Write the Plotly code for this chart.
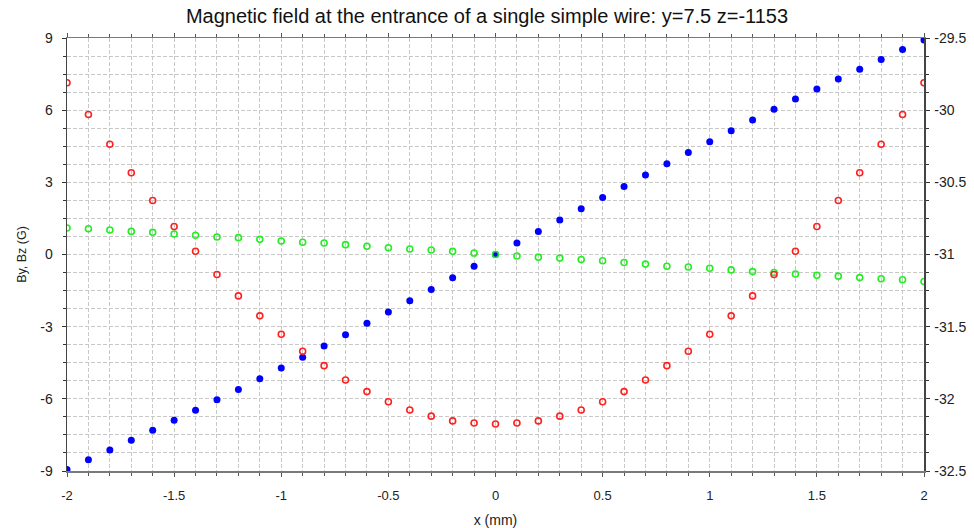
import plotly.graph_objects as go

x_vals = [-2.0, -1.9, -1.8, -1.7, -1.6, -1.5, -1.4, -1.3, -1.2, -1.1, -1.0,
          -0.9, -0.8, -0.7, -0.6, -0.5, -0.4, -0.3, -0.2, -0.1, 0.0,
          0.1, 0.2, 0.3, 0.4, 0.5, 0.6, 0.7, 0.8, 0.9, 1.0,
          1.1, 1.2, 1.3, 1.4, 1.5, 1.6, 1.7, 1.8, 1.9, 2.0]

by_vals = [-8.94, -8.53, -8.13, -7.72, -7.31, -6.89, -6.47, -6.04, -5.61, -5.17, -4.72,
           -4.27, -3.80, -3.34, -2.86, -2.39, -1.92, -1.45, -0.97, -0.49, 0.0,
           0.48, 0.96, 1.43, 1.90, 2.37, 2.83, 3.31, 3.77, 4.24, 4.69,
           5.14, 5.59, 6.04, 6.46, 6.88, 7.30, 7.70, 8.11, 8.52, 8.92]

bz_vals = [-29.81, -30.03, -30.236, -30.434, -30.626, -30.806, -30.977, -31.139, -31.287, -31.425, -31.553,
           -31.670, -31.770, -31.869, -31.950, -32.020, -32.077, -32.120, -32.153, -32.167, -32.174,
           -32.167, -32.153, -32.120, -32.077, -32.020, -31.950, -31.869, -31.770, -31.670, -31.553,
           -31.425, -31.287, -31.139, -30.977, -30.806, -30.626, -30.434, -30.236, -30.03, -29.81]

bx_vals = [1.10, 1.07, 1.02, 0.96, 0.92, 0.85, 0.80, 0.73, 0.70, 0.63, 0.56,
           0.51, 0.48, 0.41, 0.34, 0.28, 0.23, 0.19, 0.13, 0.06, 0.0,
           -0.06, -0.11, -0.15, -0.21, -0.26, -0.33, -0.40, -0.49, -0.52, -0.57,
           -0.64, -0.71, -0.75, -0.81, -0.86, -0.90, -0.96, -1.01, -1.05, -1.12]

x_ticks = [-2, -1.5, -1, -0.5, 0, 0.5, 1, 1.5, 2]
x_tick_labels = ["-2", "-1.5", "-1", "-0.5", "0", "0.5", "1", "1.5", "2"]
y_ticks = [-9, -6, -3, 0, 3, 6, 9]
y_tick_labels = ["-9", "-6", "-3", "0", "3", "6", "9"]
y2_ticks = [-32.5, -32, -31.5, -31, -30.5, -30, -29.5]
y2_tick_labels = ["-32.5", "-32", "-31.5", "-31", "-30.5", "-30", "-29.5"]

title_text = "Magnetic field at the entrance of a single simple wire: y=7.5 z=-1153"

fig = go.Figure()
fig.add_trace(go.Scatter(
    x=x_vals, y=by_vals, mode="markers", name="By",
    marker=dict(symbol="circle", size=7, color="#0000ff", line=dict(width=0)),
))
fig.add_trace(go.Scatter(
    x=x_vals, y=bz_vals, mode="markers", name="Bz", yaxis="y2",
    marker=dict(symbol="circle-open", size=6, color="#ff2020", line=dict(width=1.6, color="#ff2020")),
))
fig.add_trace(go.Scatter(
    x=x_vals, y=bx_vals, mode="markers", name="Bx",
    marker=dict(symbol="circle-open", size=6, color="#22ee22", line=dict(width=1.6, color="#22ee22")),
))

font_family = "Liberation Sans, Arial, sans-serif"
grid_color = "#c8c8c8"
grid_dash = "4px,2px"

W, H = 974, 528

fig.update_layout(
    width=W, height=H,
    paper_bgcolor="white", plot_bgcolor="white",
    showlegend=False,
    hovermode=False,
    margin=dict(l=67, r=50, t=38, b=57, autoexpand=False),
    font=dict(family=font_family, size=13, color="#222222"),
    title=dict(text=title_text, x=0.5, xanchor="center", y=1 - 15.5 / H, yanchor="middle",
               font=dict(family=font_family, size=20, color="#111111"), automargin=False),
    xaxis=dict(
        range=[-2, 2], tickvals=x_ticks, ticktext=x_tick_labels,
        showgrid=True, gridcolor=grid_color, griddash=grid_dash, gridwidth=1,
        minor=dict(dtick=0.1, tick0=0, showgrid=True, gridcolor=grid_color, griddash=grid_dash,
                   ticks="outside", ticklen=3, tickcolor="#555555"),
        ticks="outside", ticklen=4, tickcolor="#555555",
        showline=True, linecolor="#7a7a7a", linewidth=1.5, mirror="ticks",
        zeroline=False, automargin=False,
        ticklabelstandoff=8,
        title=dict(text="x (mm)", standoff=13, font=dict(size=14)),
        tickfont=dict(size=13),
    ),
    yaxis=dict(
        range=[-9, 9], tickvals=y_ticks, ticktext=y_tick_labels,
        showgrid=True, gridcolor=grid_color, griddash=grid_dash, gridwidth=1,
        minor=dict(dtick=0.75, tick0=0, showgrid=True, gridcolor=grid_color, griddash=grid_dash,
                   ticks="outside", ticklen=3, tickcolor="#333333"),
        ticks="outside", ticklen=4, tickcolor="#333333",
        showline=True, linecolor="#444444", linewidth=1.5,
        zeroline=False, automargin=False,
        ticklabelstandoff=6,
        title=dict(text="By, Bz (G)", standoff=11, font=dict(size=12.5)),
        tickfont=dict(size=14),
    ),
    yaxis2=dict(
        range=[-32.5, -29.5], tickvals=y2_ticks, ticktext=y2_tick_labels,
        overlaying="y", side="right",
        showgrid=False,
        minor=dict(dtick=0.125, tick0=-32.5, showgrid=False,
                   ticks="outside", ticklen=3, tickcolor="#333333"),
        ticks="outside", ticklen=4, tickcolor="#333333",
        showline=True, linecolor="#444444", linewidth=1.5,
        zeroline=False, automargin=False,
        ticklabelstandoff=2,
        tickfont=dict(size=14),
    ),
)

fig.write_html(
    "out.html",
    config={"displayModeBar": False, "staticPlot": True},
    post_script="document.body.style.margin='0';document.body.style.overflow='hidden';",
)
